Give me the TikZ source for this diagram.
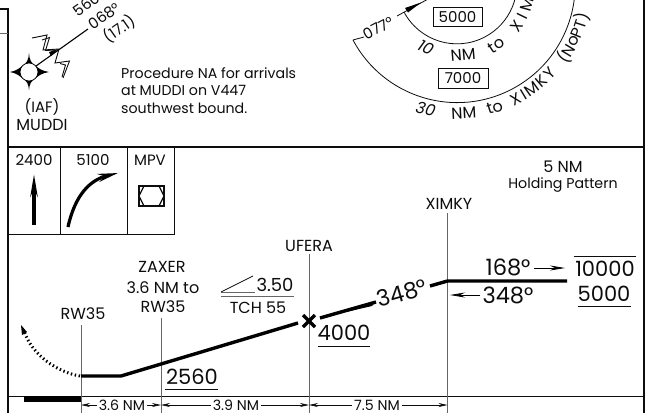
\documentclass[tikz,border=0pt]{standalone}
\usepackage{fontspec}
\setmainfont{Poppins}
\usetikzlibrary{arrows.meta}
\definecolor{ink}{gray}{0.05}
\tikzset{
  x=1pt,y=-1pt,
  frameline/.style={draw=ink,line width=2.4pt},
  thinline/.style={draw=ink,line width=0.9pt},
  greyline/.style={draw=black!60,line width=1pt},
  prof/.style={draw=black,line width=3.4pt},
  dim/.style={draw=ink,line width=0.7pt,-{Stealth[length=9pt,width=4pt]}},
  proc/.style={font=\fontsize{14.2}{16}\selectfont,inner sep=0pt,text=ink},
  tiny/.style={font=\fontsize{15}{16}\selectfont,inner sep=0pt,text=ink},
  lab/.style={font=\fontsize{16}{18}\selectfont,inner sep=0pt,text=ink},
  mid/.style={font=\fontsize{18}{20}\selectfont,inner sep=0pt,text=ink},
  big/.style={font=\fontsize{21}{24}\selectfont,inner sep=0pt,text=ink},
  deg/.style={font=\fontsize{22.5}{24}\selectfont,inner sep=0pt,text=ink},
  headarrow/.style={draw=black,line width=0.8pt,-{Stealth[length=15pt,width=5pt]}},
}
\newcommand{\arclet}[4]{\node[lab,rotate=#1-270] (#4) at ({457+#2*cos(#1)},{-16-#2*sin(#1)}) {#3};}
\begin{document}
\begin{tikzpicture}
\clip (0,0) rectangle (650,413);
\fill[white] (0,0) rectangle (650,413);
% frame
\coordinate (fa) at (0,9); \coordinate (fb) at (8,9); \coordinate (fc) at (8,413);
\coordinate (fd) at (8,147); \coordinate (fe) at (644,147);
\coordinate (ff) at (644,0); \coordinate (fg) at (644,413);
\draw[frameline] (fa) -- (fb) -- (fc);
\draw[frameline] (fd) -- (fe);
\draw[frameline] (ff) -- (fg);
\draw[greyline] (0,33) -- (8,33);
% minima boxes
\draw[thinline] (8,234) -- (174,234) -- (174,147);
\draw[thinline] (60,147) -- (60,234);
\draw[thinline] (127,147) -- (127,234);
\node[tiny] (t2400) at (34,160) {2400};
\node[tiny] (t5100) at (93,160) {5100};
\node[tiny] (tmpv) at (150,160) {MPV};
\draw[line width=3.2pt,-{Stealth[length=22pt,width=7pt]}] (34,225) -- (34,174);
\draw[line width=3.2pt,-{Stealth[length=20pt,width=8pt]}] (68,227) .. controls (75,195) and (90,180) .. (118,173);
\draw[line width=1.8pt,draw=ink] (139,186) rectangle (164,206);
\draw[line width=1.2pt,draw=ink] (144,186) -- (139,196) -- (144,206) (159,186) -- (164,196) -- (159,206);
% top-left fix
\coordinate (mud) at (29,72);
\fill[black] (29,53) .. controls (29.5,60) and (31,63) .. (35.5,65.5)
  .. controls (38,68) and (42,71) .. (49,72)
  .. controls (42,73) and (38,76) .. (35.5,78.5)
  .. controls (31,81) and (29.5,84) .. (29,90)
  .. controls (28.5,84) and (27,81) .. (22.5,78.5)
  .. controls (20,76) and (16,73) .. (10,72)
  .. controls (16,71) and (20,68) .. (22.5,65.5)
  .. controls (27,63) and (28.5,60) .. (29,53) -- cycle;
\fill[white,draw=black,line width=0.7pt] (mud) circle[radius=9pt];
\coordinate (rad) at (88,29);
\draw[line width=1.1pt,draw=black] (36,66) -- (rad);
\fill[black] (58,49) -- (49,52) -- (51,56) -- cycle;
\draw[line width=0.9pt,draw=ink] (32,38) -- (47,35) -- (43,50) -- (59,49) -- (55,63) -- (69.5,61) -- (63,78);
\draw[line width=0.9pt,draw=ink] (42,40) -- (49.5,37.5) -- (45.5,50.5) -- (55,50);
\draw[line width=0.9pt,draw=ink] (60,63.5) -- (65.5,65) -- (62,77);
\node[tiny,rotate=35] (r1) at (90,2) {5600};
\node[tiny,rotate=35] (r2) at (104,16) {068°};
\node[tiny,rotate=35] (r3) at (119,29) {(17.1)};
\node[tiny] (iaf) at (42,107) {(IAF)};
\node[lab] (mudn) at (42,125) {MUDDI};
\node[proc,anchor=west] (p1) at (121,73) {Procedure NA for arrivals};
\node[proc,anchor=west] (p2) at (121,90) {at MUDDI on V447};
\node[proc,anchor=west] (p3) at (121,108) {southwest bound.};
% TAA arcs
\draw[line width=0.8pt,draw=ink] (404,12) arc[start angle=208,end angle=375,radius=60pt];
\draw[line width=0.8pt,draw=ink] (353,40) arc[start angle=208,end angle=375,radius=118pt];
\draw[line width=0.8pt,draw=ink] (353,40) -- (364,37);
\node[tiny,rotate=28] (b077) at (378,28) {077°};
\coordinate (ba) at (397,16); \coordinate (bb) at (430,-2);
\draw[line width=0.8pt,draw=ink] (ba) -- (bb);
\fill[black] (421,2.5) -- (405,8) -- (408,12.5) -- cycle;
\node[draw=ink,line width=0.8pt,tiny,minimum width=49pt,minimum height=19pt] (b5) at (457.5,17) {5000};
\node[draw=ink,line width=0.8pt,tiny,minimum width=50pt,minimum height=20pt] (b7) at (463,78) {7000};
\arclet{244}{71}{\itshape 10}{a10}
\arclet{275}{71}{NM}{anm}
\arclet{303}{73}{to}{ato}
\arclet{325}{73}{X}{ax}
\arclet{334}{73}{I}{ai}
\arclet{344}{73}{M}{am}
\arclet{356}{73}{K}{ak}
\arclet{256}{129}{\itshape 30}{b30}
\arclet{273}{129}{NM}{bnm}
\arclet{287}{129}{to}{bto}
\arclet{297}{129}{X}{bx}
\arclet{301}{129}{I}{bi}
\arclet{305.5}{129}{M}{bm}
\arclet{311}{129}{K}{bk}
\arclet{316}{129}{Y}{by}
\arclet{325}{130}{(}{c1}
\arclet{329}{130}{N}{c2}
\arclet{334}{130}{o}{c3}
\arclet{338}{130}{P}{c4}
\arclet{342}{130}{T}{c5}
\arclet{345.5}{130}{)}{c6}
% profile header
\node[lab] (h1) at (563,167) {5 NM};
\node[proc] (h2) at (563,185) {Holding Pattern};
% bottom line
\draw[thinline] (8,396) -- (644,396);
\fill[black] (24,396) rectangle (81,402);
% verticals
\node[lab] (nrw) at (83,314) {RW35};
\node[lab] (nz1) at (162,267) {ZAXER};
\node[lab] (nz2) at (163,288) {3.6 NM to};
\node[lab] (nz3) at (163,307) {RW35};
\node[lab] (nuf) at (309,246) {UFERA};
\node[lab] (nxi) at (449,204) {XIMKY};
\draw[greyline] (81,325) -- (81,413);
\draw[greyline] (161,318) -- (161,413);
\draw[greyline] (309,254) -- (309,413);
\draw[greyline] (447.5,213) -- (447.5,413);
% distances
\node[proc] (d1) at (122,405) {3.6 NM};
\node[proc] (d2) at (236,405) {3.9 NM};
\node[proc] (d3) at (377,405) {7.5 NM};
\coordinate (v1) at (81,405); \coordinate (v2) at (161,405); \coordinate (v3) at (309,405); \coordinate (v4) at (447.5,405);
\draw[dim] (d1.west) ++(-2,0) -- (v1);
\draw[dim] (d1.east) ++(2,0) -- (v2);
\draw[dim] (d2.west) ++(-2,0) -- (v2);
\draw[dim] (d2.east) ++(2,0) -- (v3);
\draw[dim] (d3.west) ++(-2,0) -- (v3);
\draw[dim] (d3.east) ++(2,0) -- (v4);
% glide path
\draw[prof,line join=miter] (81,376) -- (121,376) -- (298,323);
\draw[line width=3pt,line cap=butt,dash pattern=on 1.4pt off 2.6pt] (80,376) .. controls (57,372) and (32,355) .. (24,331);
\fill[black] (21,325) -- (22,335) -- (27,332) -- cycle;
\draw[line width=3.4pt] (303,315) -- (315,327) (303,327) -- (315,315);
\draw[prof] (320,318) -- (376,302);
\fill[black] (346,312) -- (376,301) -- (372,306) -- cycle;
\draw[prof] (430,286) -- (447.5,281) -- (567,281);
\node[deg,rotate=16] (b348a) at (402,293) {348°};
\node[deg] (b168) at (508,267) {168°};
\node[deg] (b348b) at (508,295) {348°};
\draw[headarrow] (534,268) -- (565,268);
\draw[headarrow] (480,295) -- (450,295);
% altitudes
\node[big] (a10k) at (605,269) {10000};
\draw[thinline] (574,256) -- (636,256);
\node[big] (a5k) at (604,294) {5000};
\draw[thinline] (578,306) -- (631,306);
\node[big] (a4k) at (344,333) {4000};
\draw[thinline] (318,346) -- (370,346);
\node[big] (a25) at (192,377) {2560};
\draw[thinline] (165,389) -- (218,389);
% glide slope
\draw[greyline] (221,292) -- (255,292);
\draw[line width=0.8pt,draw=ink] (221,292) -- (253,276);
\node[mid] (g1) at (275,285) {3.50};
\draw[greyline] (221,296) -- (294,296);
\node[lab] (g2) at (258,308) {TCH 55};
\end{tikzpicture}
\end{document}
